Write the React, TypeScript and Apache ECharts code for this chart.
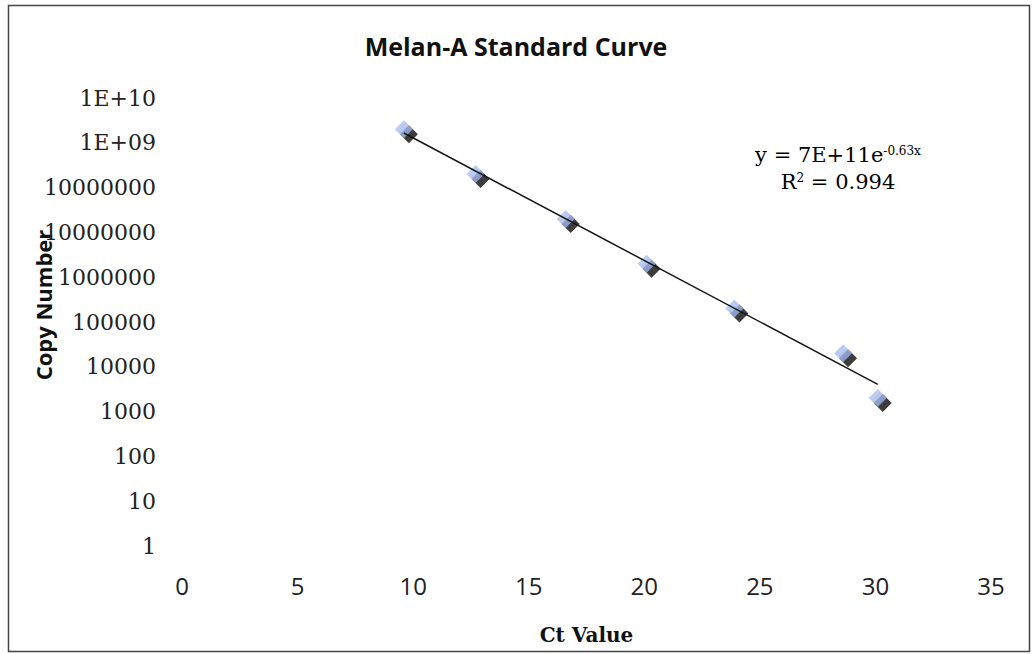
import React, { useEffect, useRef } from "react";
import * as echarts from "echarts";

// Standard dilution series: threshold cycle vs. copy number
const ctValues = [9.6, 12.7, 16.6, 20.1, 23.9, 28.6, 30.1];
const copyNumbers = [2e9, 2e8, 2e7, 2e6, 2e5, 2e4, 2e3];

// Axis tick labels
const xTicks = [0, 5, 10, 15, 20, 25, 30, 35];
const yTickLabels = [
  "1",
  "10",
  "100",
  "1000",
  "10000",
  "100000",
  "1000000",
  "10000000",
  "10000000",
  "1E+09",
  "1E+10",
];

// Exponential trendline y = A * e^(B x) and its R²
const fitA = 7e11;
const fitB = -0.63;
const fitR2 = 0.994;

const sciLabel = (v: number) => {
  const e = Math.floor(Math.log10(v));
  const m = Math.round(v / Math.pow(10, e));
  return `${m}E+${e}`;
};

export default function App() {
  const ref = useRef<HTMLDivElement>(null);

  useEffect(() => {
    if (!ref.current) return;
    const chart = echarts.init(ref.current, undefined, { renderer: "svg" });

    const points = ctValues.map((x, i) => [x, copyNumbers[i]]);
    const xMin = Math.min(...ctValues);
    const xMax = Math.max(...ctValues);
    const trend = [xMin, xMax].map((x) => [x, fitA * Math.exp(fitB * x)]);

    const serif = "'DejaVu Serif', serif";
    const sans = "'Open Sans', sans-serif";

    chart.setOption({
      animation: false,
      backgroundColor: "#ffffff",
      title: {
        text: "Melan-A Standard Curve",
        left: "center",
        top: 33,
        padding: 0,
        textStyle: {
          fontFamily: sans,
          fontSize: 25,
          fontWeight: "bold",
          color: "#111",
        },
      },
      grid: {
        left: 182,
        right: 41,
        top: 98,
        bottom: 108,
        containLabel: false,
        outerBoundsMode: "none",
      },
      xAxis: {
        type: "value",
        min: xTicks[0],
        max: xTicks[xTicks.length - 1],
        interval: xTicks[1] - xTicks[0],
        axisLine: { show: false },
        axisTick: { show: false },
        splitLine: { show: false },
        axisLabel: {
          fontFamily: sans,
          fontSize: 24,
          color: "#222",
          margin: 27,
        },
        name: "Ct Value",
        nameLocation: "middle",
        nameGap: 79,
        nameTextStyle: {
          fontFamily: serif,
          fontSize: 20,
          fontWeight: "bold",
          color: "#111",
        },
      },
      yAxis: {
        type: "log",
        logBase: 10,
        min: 1,
        max: 1e10,
        interval: 1,
        splitNumber: 10,
        axisLine: { show: false },
        axisTick: { show: false },
        splitLine: { show: false },
        axisLabel: {
          fontFamily: serif,
          fontSize: 22,
          color: "#222",
          margin: 26,
          showMinLabel: true,
          showMaxLabel: true,
          formatter: (v: number) => yTickLabels[Math.round(Math.log10(v))] ?? "",
        },
      },
      series: [
        {
          // dark drop shadow under each marker
          type: "scatter",
          data: points,
          symbol: "diamond",
          symbolSize: 18,
          symbolOffset: [5, 5],
          silent: true,
          itemStyle: { color: "#0b0b0b" },
        },
        {
          type: "scatter",
          data: points,
          symbol: "diamond",
          symbolSize: 18,
          itemStyle: {
            color: new echarts.graphic.LinearGradient(0, 0, 1, 1, [
              { offset: 0, color: "#b6c9f2" },
              { offset: 1, color: "#91aae5" },
            ]),
          },
        },
        {
          type: "line",
          data: trend,
          symbol: "none",
          silent: true,
          lineStyle: { color: "#151515", width: 1.5 },
        },
      ],
      graphic: [
        {
          type: "rect",
          shape: { x: 8.5, y: 5.5, width: 1021, height: 646 },
          style: { fill: "none", stroke: "#444", lineWidth: 1.5 },
          silent: true,
        },
        {
          type: "text",
          x: 43,
          y: 305,
          rotation: Math.PI / 2,
          style: {
            text: "Copy Number",
            fontFamily: sans,
            fontSize: 22,
            fontWeight: "bold",
            fill: "#111",
            align: "center",
            verticalAlign: "middle",
          },
        },
        {
          type: "text",
          x: 838,
          y: 155,
          style: {
            text: `{a|y = ${sciLabel(fitA)}e}{s|${fitB}x}`,
            align: "center",
            verticalAlign: "middle",
            rich: {
              a: { fontFamily: serif, fontSize: 21, color: "#222" },
              s: { fontFamily: serif, fontSize: 12, color: "#222", verticalAlign: "top" },
            },
          },
        },
        {
          type: "text",
          x: 838,
          y: 182,
          style: {
            text: `{a|R}{s|2}{a| = ${fitR2}}`,
            align: "center",
            verticalAlign: "middle",
            rich: {
              a: { fontFamily: serif, fontSize: 21, color: "#222" },
              s: { fontFamily: serif, fontSize: 12, color: "#222", verticalAlign: "top" },
            },
          },
        },
      ],
    });

    return () => chart.dispose();
  }, []);

  return (
    <div
      ref={ref}
      style={{ position: "fixed", left: 0, top: 0, width: 1032, height: 654 }}
    />
  );
}
